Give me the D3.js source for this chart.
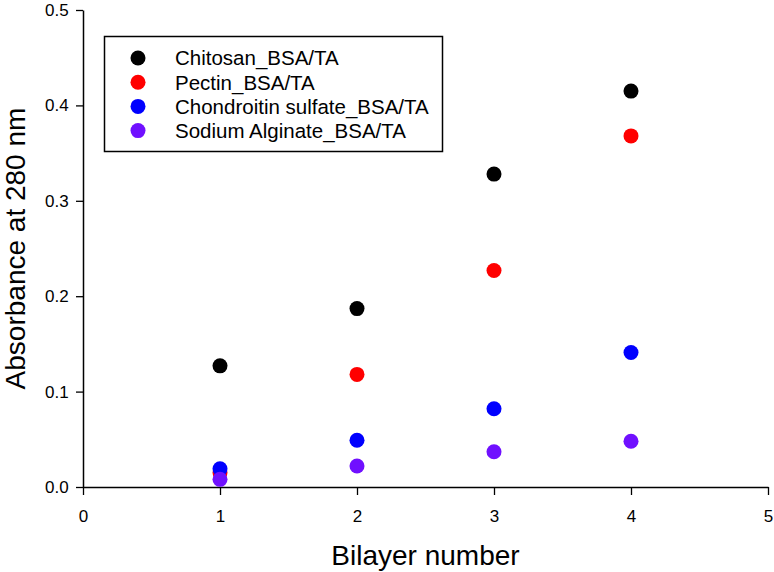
<!DOCTYPE html>
<html><head><meta charset="utf-8">
<script src="https://cdn.jsdelivr.net/npm/d3@7"></script>
<style>body{margin:0;background:#fff}svg{display:block;font-family:"Liberation Sans",Arial,sans-serif}</style>
</head><body><svg id="c" width="774" height="572"></svg>
<script>
const bilayers = [1, 2, 3, 4];
const seriesNames = ["Chitosan_BSA/TA", "Pectin_BSA/TA", "Chondroitin sulfate_BSA/TA", "Sodium Alginate_BSA/TA"];
const seriesColors = ["#000000", "#ff0000", "#0000ff", "#7010ff"];
const chitosan = [0.127, 0.187, 0.328, 0.415];
const pectin = [0.015, 0.118, 0.227, 0.368];
const chondroitin = [0.019, 0.049, 0.082, 0.141];
const alginate = [0.008, 0.022, 0.037, 0.048];
const xTicks = [0, 1, 2, 3, 4, 5];
const yTicks = [0.0, 0.1, 0.2, 0.3, 0.4, 0.5];

const series = [chitosan, pectin, chondroitin, alginate];
const svg = d3.select("#c");
const x = d3.scaleLinear().domain([0, 5]).range([83, 768]);
const y = d3.scaleLinear().domain([0, 0.5]).range([487, 10]);

const xAxis = svg.append("g").attr("transform", "translate(0,487)")
  .call(d3.axisBottom(x).tickValues(xTicks).tickFormat(d3.format("d")).tickSize(8).tickSizeOuter(0));
const yAxis = svg.append("g").attr("transform", "translate(83,0)")
  .call(d3.axisLeft(y).tickValues(yTicks).tickFormat(d3.format(".1f")).tickSize(7).tickSizeOuter(0));
[xAxis, yAxis].forEach(a => {
  a.select(".domain").attr("stroke", "#000").attr("stroke-width", 1.5);
  a.selectAll(".tick line").attr("stroke", "#000").attr("stroke-width", 1.3);
  a.selectAll("text").attr("font-size", 17).attr("fill", "#000").attr("font-family", "Liberation Sans, Arial, sans-serif");
});
xAxis.selectAll("text").attr("dy", "1.4em");
yAxis.selectAll("text").attr("dx", "-0.25em");

series.forEach((vals, i) => {
  svg.append("g").selectAll("circle").data(vals).join("circle")
    .attr("cx", (d, j) => x(bilayers[j])).attr("cy", d => y(d))
    .attr("r", 7.5).attr("fill", seriesColors[i]);
});

// legend
const lg = svg.append("g");
lg.append("rect").attr("x", 104.5).attr("y", 36.5).attr("width", 338).attr("height", 115)
  .attr("fill", "#fff").attr("stroke", "#000").attr("stroke-width", 1.5);
seriesNames.forEach((n, i) => {
  const cy = 58 + i * 24.2;
  lg.append("circle").attr("cx", 138).attr("cy", cy).attr("r", 7.5).attr("fill", seriesColors[i]);
  lg.append("text").attr("x", 175).attr("y", cy).attr("dy", "0.36em").attr("font-size", 20.5).text(n);
});

svg.append("text").attr("x", 425.5).attr("y", 565).attr("text-anchor", "middle").attr("font-size", 28).text("Bilayer number");
svg.append("text").attr("transform", "translate(25,248.5) rotate(-90)").attr("text-anchor", "middle").attr("font-size", 28).text("Absorbance at 280 nm");
</script></body></html>
